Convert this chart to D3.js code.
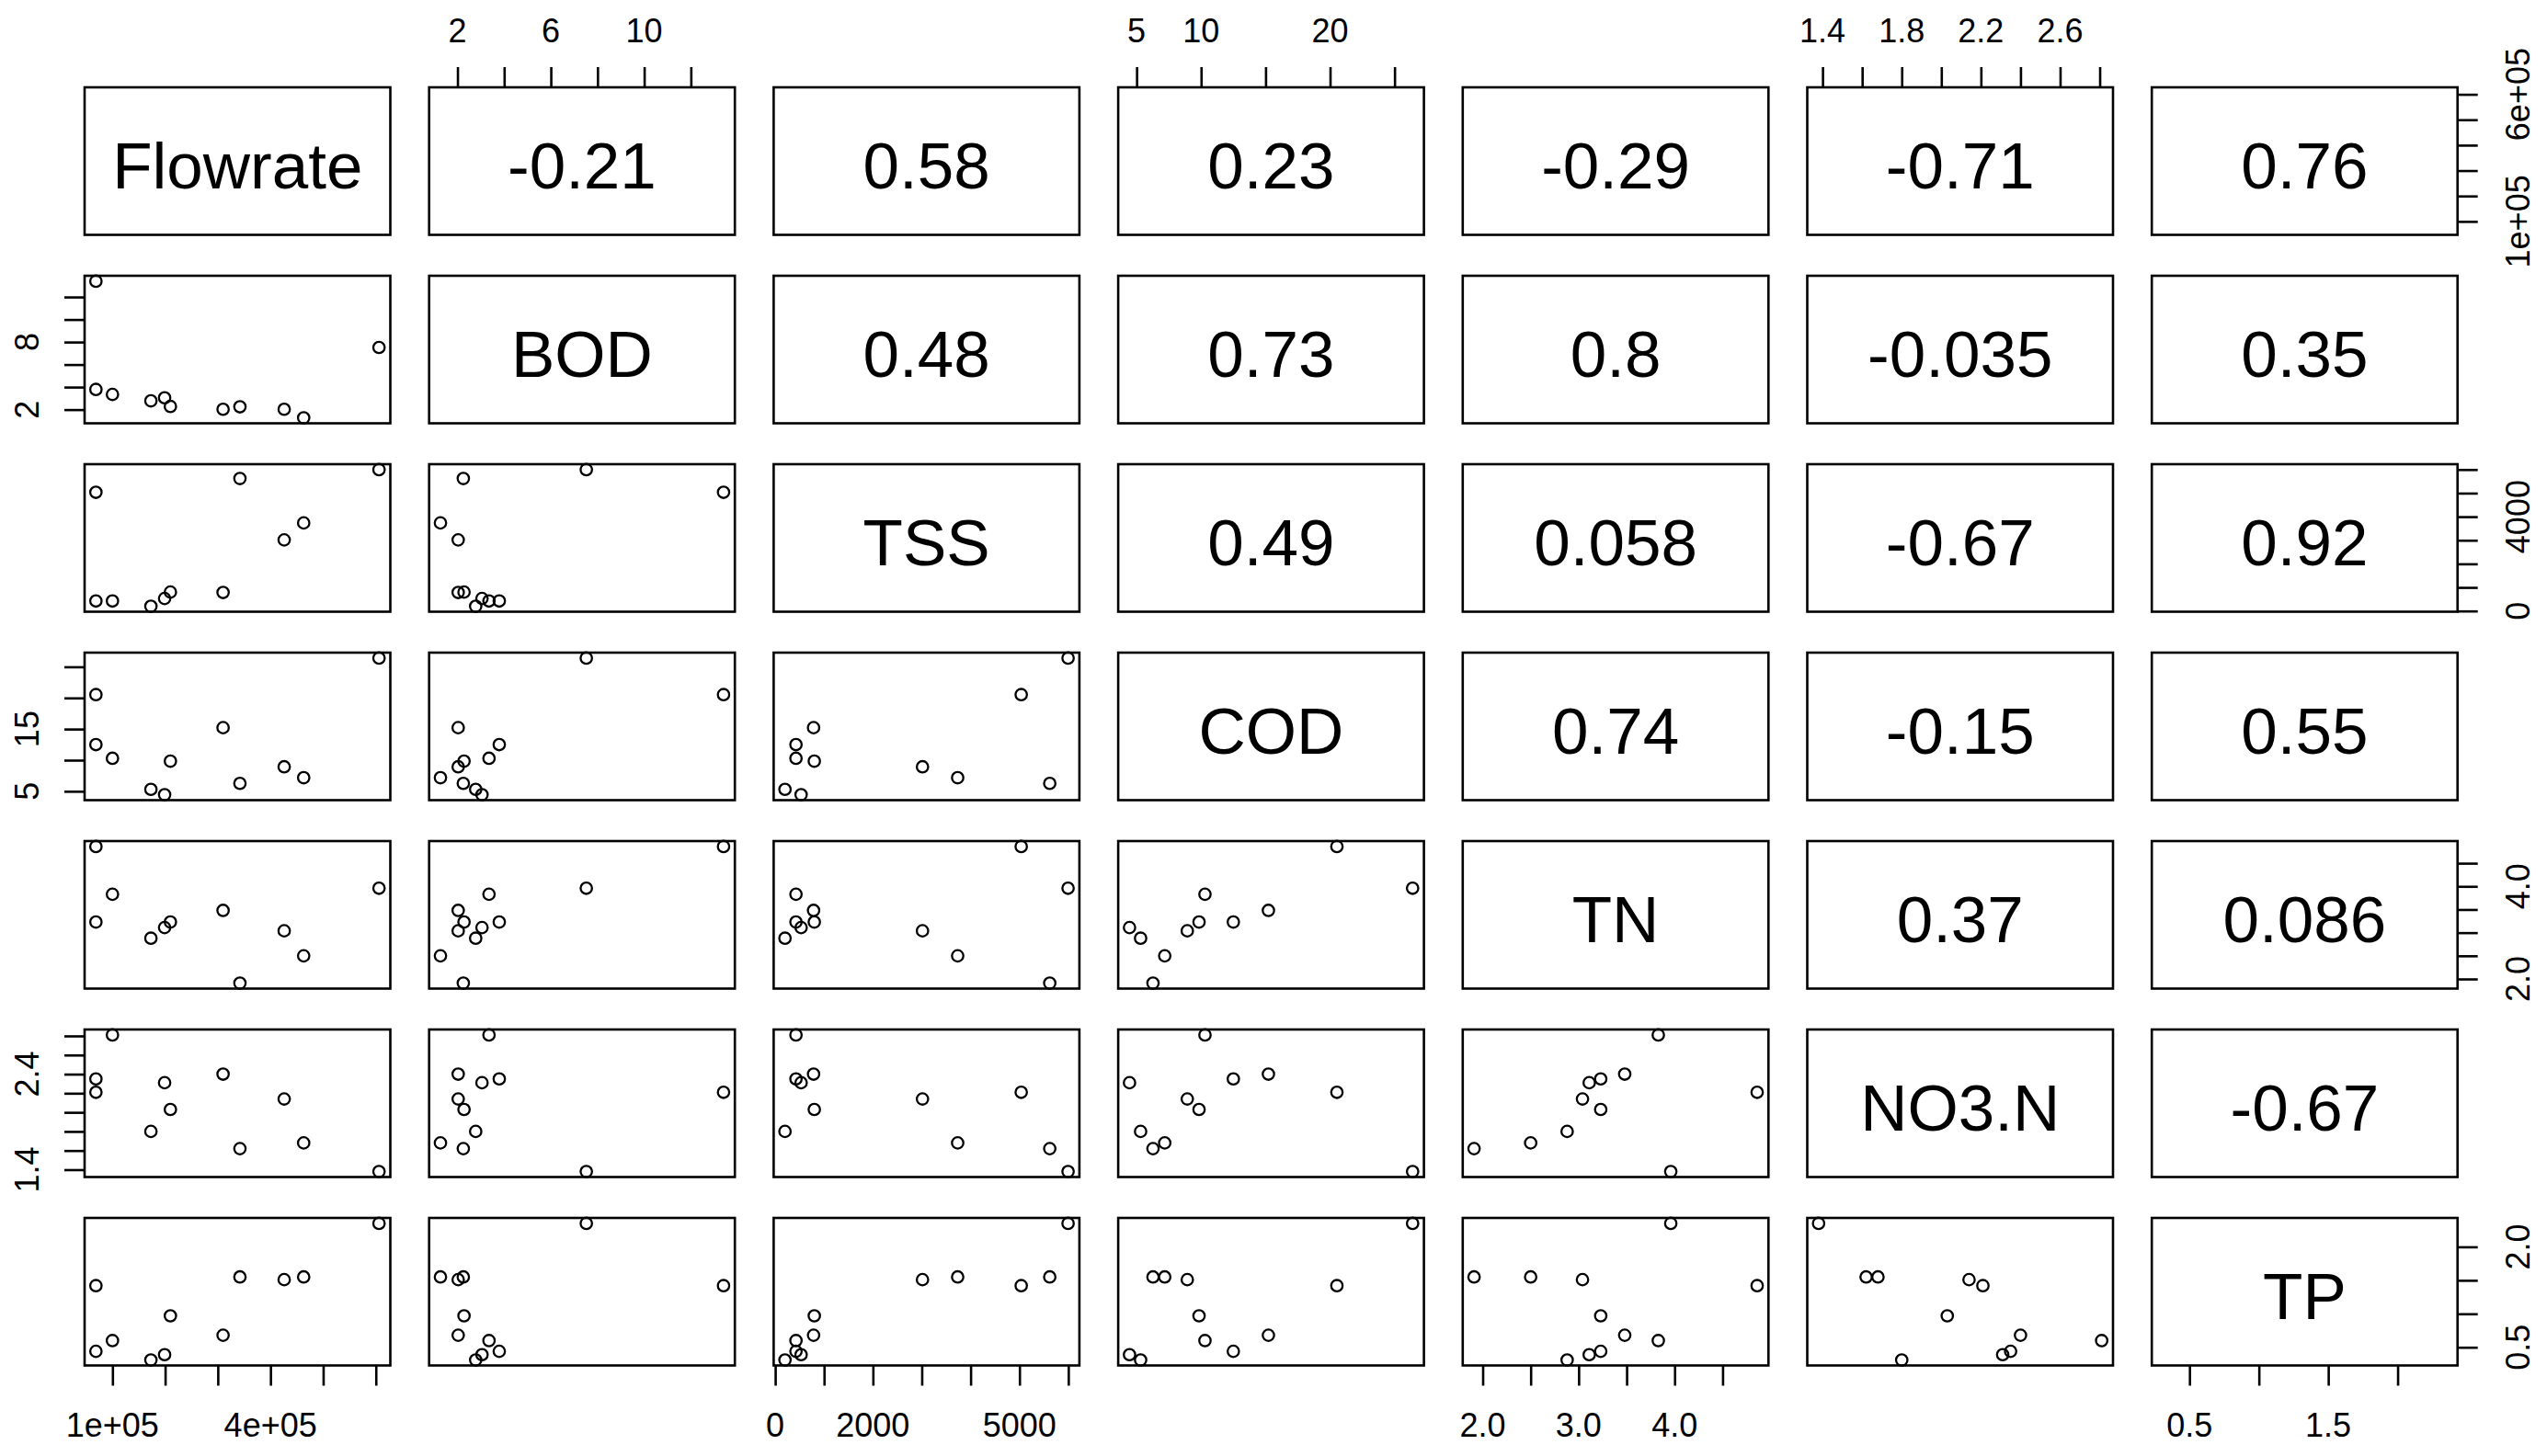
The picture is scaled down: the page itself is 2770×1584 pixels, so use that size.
<!DOCTYPE html>
<html>
<head>
<meta charset="utf-8">
<script src="https://cdn.jsdelivr.net/npm/d3@7"></script>
<style>
  html, body { margin: 0; padding: 0; background: #ffffff; }
  svg { display: block; }
  text { font-family: "Liberation Sans", Arial, sans-serif; fill: #000; }
</style>
</head>
<body>
<svg id="chart" width="2770" height="1584"></svg>
<script>
// ---------------- data (11 observations) ----------------
const variables = ["Flowrate", "BOD", "TSS", "COD", "TN", "NO3.N", "TP"];

const flowrate = [68600, 68600, 100000, 173000, 199000, 210000, 310000, 342000, 426000, 463000, 606000];
const bod      = [13.4, 3.79, 3.35, 2.78, 3.05, 2.28, 2.03, 2.25, 2.03, 1.27, 7.52];
const tss      = [5036, 425, 425, 200, 530, 800, 785, 5620, 3015, 3735, 5995];
const cod      = [20.53, 12.50, 10.30, 5.31, 4.45, 9.84, 15.22, 6.27, 8.93, 7.18, 26.4];
const tn       = [4.86, 3.23, 3.83, 2.88, 3.11, 3.23, 3.48, 1.91, 3.04, 2.50, 3.96];
const no3n     = [2.21, 2.35, 2.81, 1.80, 2.31, 2.03, 2.40, 1.62, 2.14, 1.68, 1.38];
const tp       = [1.42, 0.44, 0.60, 0.31, 0.39, 0.97, 0.68, 1.55, 1.51, 1.55, 2.35];

const series = [flowrate, bod, tss, cod, tn, no3n, tp];

// correlation labels shown in the upper panels, row by row
const corrRow1 = ["-0.21", "0.58", "0.23", "-0.29", "-0.71", "0.76"];
const corrRow2 = ["0.48", "0.73", "0.8", "-0.035", "0.35"];
const corrRow3 = ["0.49", "0.058", "-0.67", "0.92"];
const corrRow4 = ["0.74", "-0.15", "0.55"];
const corrRow5 = ["0.37", "0.086"];
const corrRow6 = ["-0.67"];
const corrRows = [corrRow1, corrRow2, corrRow3, corrRow4, corrRow5, corrRow6];

// tick values per variable
const ticksFlowrate = [100000, 200000, 300000, 400000, 500000, 600000];
const ticksBOD      = [2, 4, 6, 8, 10, 12];
const ticksTSS      = [0, 1000, 2000, 3000, 4000, 5000, 6000];
const ticksCOD      = [5, 10, 15, 20, 25];
const ticksTN       = [2.0, 2.5, 3.0, 3.5, 4.0, 4.5];
const ticksNO3N     = [1.4, 1.6, 1.8, 2.0, 2.2, 2.4, 2.6, 2.8];
const ticksTP       = [0.5, 1.0, 1.5, 2.0];
const tickSets = [ticksFlowrate, ticksBOD, ticksTSS, ticksCOD, ticksTN, ticksNO3N, ticksTP];

// tick labels that are printed (others suppressed as in the reference)
// x-axis labels (top for BOD, COD, NO3.N; bottom for the others)
const xLabFlowrate = [[100000, "1e+05"], [400000, "4e+05"]];
const xLabBOD      = [[2, "2"], [6, "6"], [10, "10"]];
const xLabTSS      = [[0, "0"], [2000, "2000"], [5000, "5000"]];
const xLabCOD      = [[5, "5"], [10, "10"], [20, "20"]];
const xLabTN       = [[2.0, "2.0"], [3.0, "3.0"], [4.0, "4.0"]];
const xLabNO3N     = [[1.4, "1.4"], [1.8, "1.8"], [2.2, "2.2"], [2.6, "2.6"]];
const xLabTP       = [[0.5, "0.5"], [1.5, "1.5"]];
const xLabels = [xLabFlowrate, xLabBOD, xLabTSS, xLabCOD, xLabTN, xLabNO3N, xLabTP];
// y-axis labels (left for BOD, COD, NO3.N; right for the others)
const yLabFlowrate = [[100000, "1e+05"], [600000, "6e+05"]];
const yLabBOD      = [[2, "2"], [8, "8"]];
const yLabTSS      = [[0, "0"], [4000, "4000"]];
const yLabCOD      = [[5, "5"], [15, "15"]];
const yLabTN       = [[2.0, "2.0"], [4.0, "4.0"]];
const yLabNO3N     = [[1.4, "1.4"], [2.4, "2.4"]];
const yLabTP       = [[0.5, "0.5"], [2.0, "2.0"]];
const yLabels = [yLabFlowrate, yLabBOD, yLabTSS, yLabCOD, yLabTN, yLabNO3N, yLabTP];

// ---------------- layout ----------------
const n = variables.length;
const left0 = 92, colPitch = 374.7, panelW = 332.5;
const top0 = 95, rowPitch = 205, panelH = 160.5;
const tickLen = 22;
const lineW = 2.6;
const panelFont = 71;
const labelSize = 36;

const svg = d3.select("#chart");
svg.append("rect").attr("width", 2770).attr("height", 1584).attr("fill", "#fff");

function ext(arr) {
  const [mn, mx] = d3.extent(arr);
  const r = mx - mn;
  return [mn - 0.04 * r, mx + 0.04 * r];
}

const xScales = series.map((s, j) => d3.scaleLinear().domain(ext(s))
  .range([left0 + j * colPitch, left0 + j * colPitch + panelW]));
const yScales = series.map((s, i) => d3.scaleLinear().domain(ext(s))
  .range([top0 + i * rowPitch + panelH, top0 + i * rowPitch]));

for (let i = 0; i < n; i++) {
  for (let j = 0; j < n; j++) {
    const x0 = left0 + j * colPitch, y0 = top0 + i * rowPitch;
    const g = svg.append("g");
    const ty = y0 + panelH / 2 + 0.358 * panelFont + 4;
    if (i > j) {
      const pts = series[j].map((v, k) => [v, series[i][k]]);
      g.selectAll("circle").data(pts).enter().append("circle")
        .attr("cx", d => xScales[j](d[0]))
        .attr("cy", d => yScales[i](d[1]))
        .attr("r", 6.2)
        .attr("fill", "none")
        .attr("stroke", "#000")
        .attr("stroke-width", 2.3);
    } else if (i === j) {
      g.append("text")
        .attr("x", x0 + panelW / 2).attr("y", ty)
        .attr("text-anchor", "middle")
        .attr("font-size", panelFont).text(variables[i]);
    } else {
      g.append("text")
        .attr("x", x0 + panelW / 2).attr("y", ty)
        .attr("text-anchor", "middle")
        .attr("font-size", panelFont).text(corrRows[i][j - i - 1]);
    }
    g.append("rect")
      .attr("x", x0).attr("y", y0).attr("width", panelW).attr("height", panelH)
      .attr("fill", "none").attr("stroke", "#000").attr("stroke-width", lineW);
  }
}

// ---------------- axes ----------------
function styleAxis(sel) {
  sel.select(".domain").remove();
  sel.selectAll(".tick line").attr("stroke", "#000").attr("stroke-width", lineW);
  sel.selectAll(".tick text").remove();
}

for (let j = 0; j < n; j++) {
  const onTop = (j % 2 === 1);
  if (onTop) {
    const ax = svg.append("g").attr("transform", `translate(0,${top0})`)
      .call(d3.axisTop(xScales[j]).tickValues(tickSets[j]).tickSize(tickLen).tickSizeOuter(0));
    styleAxis(ax);
    svg.append("g").selectAll("text").data(xLabels[j]).enter().append("text")
      .attr("x", d => xScales[j](d[0])).attr("y", top0 - 62 + 0.358 * labelSize)
      .attr("text-anchor", "middle")
      .attr("font-size", labelSize).text(d => d[1]);
  } else {
    const yb = top0 + (n - 1) * rowPitch + panelH;
    const ax = svg.append("g").attr("transform", `translate(0,${yb})`)
      .call(d3.axisBottom(xScales[j]).tickValues(tickSets[j]).tickSize(tickLen).tickSizeOuter(0));
    styleAxis(ax);
    svg.append("g").selectAll("text").data(xLabels[j]).enter().append("text")
      .attr("x", d => xScales[j](d[0])).attr("y", yb + 65 + 0.358 * labelSize)
      .attr("text-anchor", "middle")
      .attr("font-size", labelSize).text(d => d[1]);
  }
}

for (let i = 0; i < n; i++) {
  const onLeft = (i % 2 === 1);
  if (onLeft) {
    const ax = svg.append("g").attr("transform", `translate(${left0},0)`)
      .call(d3.axisLeft(yScales[i]).tickValues(tickSets[i]).tickSize(tickLen).tickSizeOuter(0));
    styleAxis(ax);
    svg.append("g").selectAll("text").data(yLabels[i]).enter().append("text")
      .attr("transform", d => `translate(${left0 - 63 + 0.358 * labelSize},${yScales[i](d[0])}) rotate(-90)`)
      .attr("text-anchor", "middle")
      .attr("font-size", labelSize).text(d => d[1]);
  } else {
    const xr = left0 + (n - 1) * colPitch + panelW;
    const ax = svg.append("g").attr("transform", `translate(${xr},0)`)
      .call(d3.axisRight(yScales[i]).tickValues(tickSets[i]).tickSize(tickLen).tickSizeOuter(0));
    styleAxis(ax);
    svg.append("g").selectAll("text").data(yLabels[i]).enter().append("text")
      .attr("transform", d => `translate(${xr + 65 + 0.358 * labelSize},${yScales[i](d[0])}) rotate(-90)`)
      .attr("text-anchor", "middle")
      .attr("font-size", labelSize).text(d => d[1]);
  }
}
</script>
</body>
</html>
